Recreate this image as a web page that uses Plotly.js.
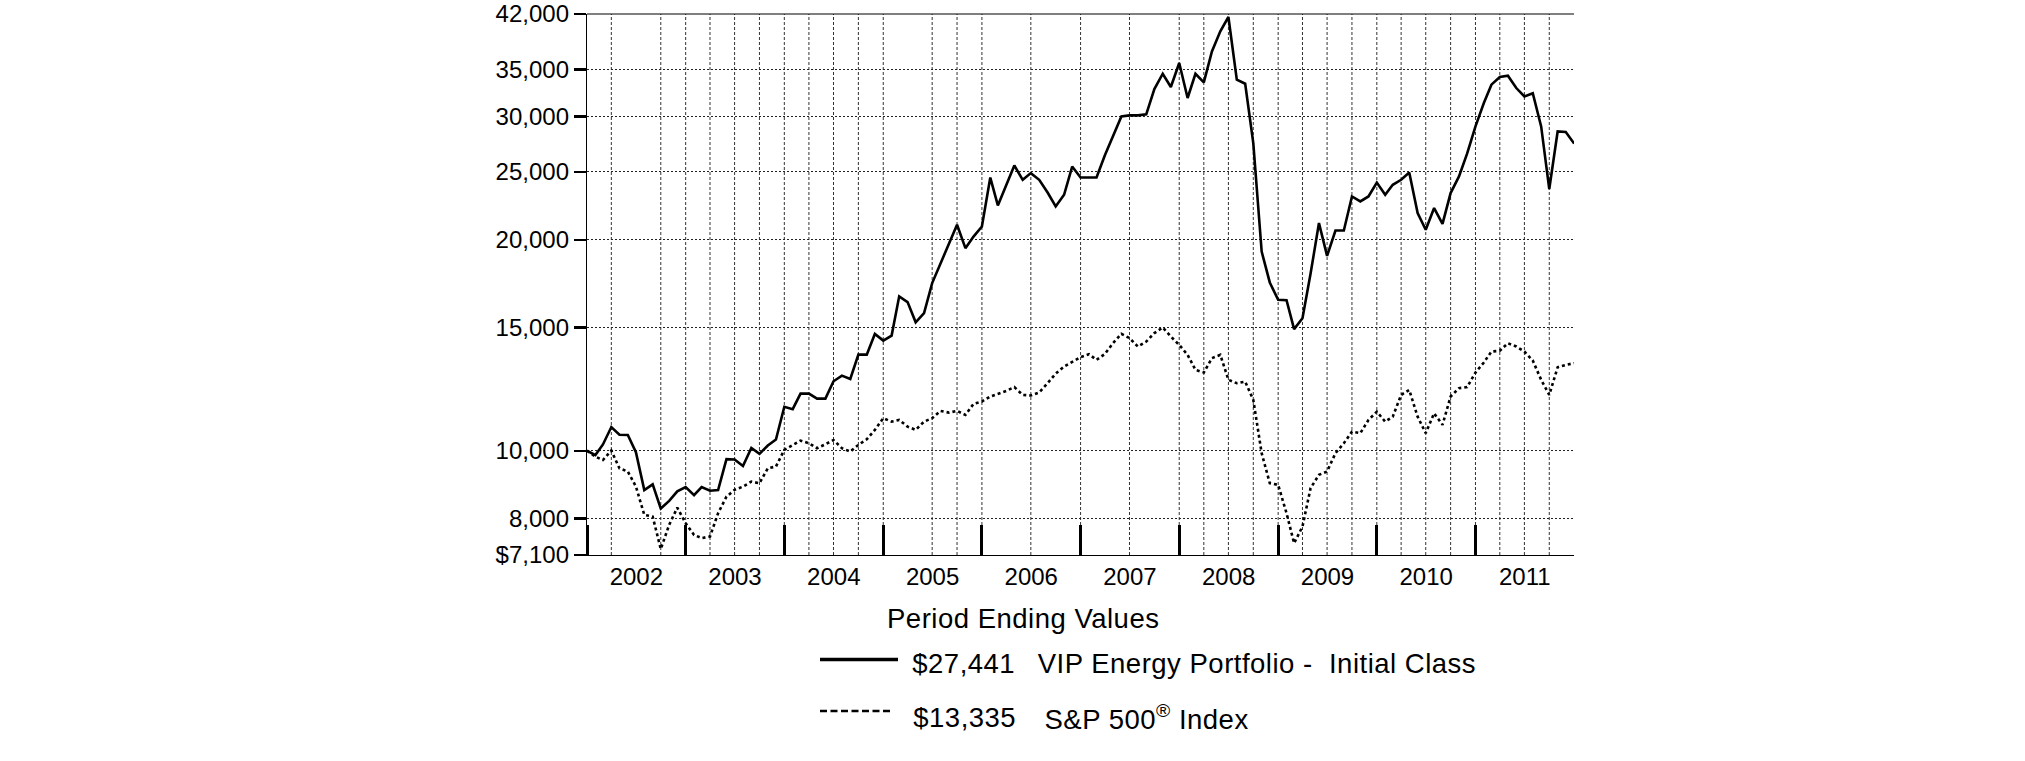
<!DOCTYPE html>
<html>
<head>
<meta charset="utf-8">
<script src="https://cdn.plot.ly/plotly-3.0.1.min.js"></script>
<style>
  html, body { margin: 0; padding: 0; background: #fff; }
  #chart { width: 2025px; height: 761px; }
  #chart .annotation-text { letter-spacing: 0.5px; }
</style>
</head>
<body>
<div id="chart"></div>
<script>
// ---- Data (hypothetical $10,000 investment, month-end values Dec 2001 - Dec 2011) ----
const vipName = 'VIP Energy Portfolio -  Initial Class';
const spName = 'S&P 500<sup>®</sup> Index';

const vipValues = [
  10000, 9860, 10210, 10810, 10540, 10530, 9950, 8790, 8955, 8270, 8480, 8750,
  8875, 8645, 8875, 8770, 8790, 9730, 9720, 9510, 10090, 9900, 10175, 10375,
  11555, 11465, 12065, 12065, 11870, 11870, 12565, 12800, 12660, 13715, 13715, 14680,
  14360, 14600, 16610, 16300, 15250, 15720, 17350, 18520, 19780, 21010, 19460, 20215,
  20895, 24540, 22390, 23960, 25530, 24360, 24900, 24360, 23365, 22315, 23190, 25445,
  24540, 24540, 24540, 26400, 28100, 29990, 30100, 30100, 30200, 32820, 34515, 33040,
  35750, 31870, 34515, 33550, 37140, 39680, 41590, 33840, 33400, 27480, 19240, 17385,
  16420, 16400, 14915, 15460, 17900, 21130, 18970, 20620, 20620, 23060, 22690, 23060,
  24140, 23190, 23960, 24360, 24950, 21840, 20670, 22200, 21080, 23320, 24630, 26540,
  29030, 31350, 33300, 34150, 34290, 32930, 32030, 32380, 29030, 23630, 28550, 28500,
  27441
];

const spValues = [
  10000, 9810, 9700, 10005, 9440, 9340, 8890, 8100, 8055, 7240, 7840, 8295,
  7880, 7585, 7505, 7545, 8145, 8600, 8795, 8890, 9035, 8990, 9440, 9495,
  10030, 10195, 10340, 10250, 10085, 10215, 10360, 10085, 9975, 10195, 10385, 10710,
  11130, 11005, 11065, 10825, 10710, 11005, 11130, 11400, 11335, 11400, 11250, 11665,
  11755, 11950, 12045, 12175, 12325, 12015, 11990, 12110, 12485, 12885, 13190, 13390,
  13600, 13735, 13480, 13745, 14240, 14685, 14480, 14085, 14315, 14720, 14990, 14555,
  14160, 13705, 13045, 12930, 13555, 13705, 12625, 12485, 12550, 11820, 9920, 8990,
  8940, 8145, 7380, 7795, 8845, 9240, 9340, 9920, 10250, 10650, 10595, 11065,
  11370, 11005, 11185, 12015, 12210, 11185, 10595, 11310, 10890, 11950, 12285, 12325,
  12930, 13365, 13855, 13890, 14240, 14085, 13855, 13450, 12625, 12015, 13160, 13260,
  13335
];

const startYear = 2002;
const yTickVals = [7100, 8000, 10000, 15000, 20000, 25000, 30000, 35000, 42000];
const yTickText = ['$7,100', '8,000', '10,000', '15,000', '20,000', '25,000', '30,000', '35,000', '42,000'];
// vertical dotted grid lines (quarter boundaries shown in the original)
const gridQuarters = ['2002-04','2002-10','2003-01','2003-04','2003-07','2003-10','2004-01','2004-04',
  '2004-07','2004-10','2005-01','2005-07','2005-10','2006-01','2006-07','2007-01','2007-07',
  '2008-01','2008-04','2008-07','2008-10','2009-01','2009-04','2009-07','2009-10','2010-01',
  '2010-04','2010-07','2010-10','2011-01','2011-04','2011-07','2011-10'];

// month dates: point i is the value at the end of month i-1 (start of month i)
const months = vipValues.map((_, i) => {
  const y = startYear + Math.floor(i / 12);
  const m = (i % 12) + 1;
  return y + '-' + String(m).padStart(2, '0') + '-01';
});

// ---- Layout geometry ----
const W = 2025, H = 761;
const M = { l: 587, r: 451, t: 14, b: 206 };
const PW = W - M.l - M.r, PH = H - M.t - M.b;
const px = x => (x - M.l) / PW;          // pixel x -> paper x
const py = y => (H - M.b - y) / PH;      // pixel y -> paper y

const FONT = 'Liberation Sans, Arial, Helvetica, sans-serif';
const fmt = v => '$' + Math.round(v).toLocaleString('en-US');

const traces = [
  {
    x: months, y: vipValues, name: vipName, type: 'scatter', mode: 'lines',
    line: { color: '#000', width: 2.6, shape: 'linear' }, hoverinfo: 'skip'
  },
  {
    x: months, y: spValues, name: spName, type: 'scatter', mode: 'lines',
    line: { color: '#000', width: 2.6, dash: '3px,3px' }, hoverinfo: 'skip'
  }
];

const shapes = [];
gridQuarters.forEach(q => {
  shapes.push({
    type: 'line', xref: 'x', yref: 'paper', x0: q + '-01', x1: q + '-01', y0: 0, y1: 1,
    line: { color: '#333', width: 1, dash: '3px,2px' }, layer: 'below'
  });
});
// top border
shapes.push({ type: 'line', xref: 'paper', yref: 'paper', x0: 0, x1: 1, y0: 1, y1: 1,
  line: { color: '#000', width: 1.2 } });
// legend samples
shapes.push({ type: 'line', xref: 'paper', yref: 'paper', x0: px(820), x1: px(898), y0: py(659.5), y1: py(659.5),
  line: { color: '#000', width: 3.5 } });
shapes.push({ type: 'line', xref: 'paper', yref: 'paper', x0: px(820), x1: px(893), y0: py(711), y1: py(711),
  line: { color: '#000', width: 2.5, dash: '7px,3.5px' } });

const legFont = { family: FONT, size: 27.5, color: '#000' };
const ann = (text, x, yc) => ({
  text: text, xref: 'paper', yref: 'paper', x: px(x), y: py(yc),
  xanchor: 'left', yanchor: 'middle', showarrow: false, borderpad: 0, font: legFont
});
const annotations = [
  ann('Period Ending Values', 891, 618.8),
  ann(fmt(vipValues[vipValues.length - 1]), 913, 663),
  ann(vipName, 1046, 663),
  ann(fmt(spValues[spValues.length - 1]), 914, 717.5),
  ann(spName, 1047, 717.5)
];

const layout = {
  width: W, height: H,
  margin: M,
  paper_bgcolor: '#fff', plot_bgcolor: '#fff',
  showlegend: false,
  font: { family: FONT, color: '#000' },
  xaxis: {
    type: 'date',
    range: ['2002-01-01', '2011-12-31 12:00'],
    tick0: '2002-01-01', dtick: 'M12',
    ticklabelmode: 'period', tickformat: '%Y',
    ticks: 'inside', ticklen: 30, tickwidth: 3, tickcolor: '#000',
    showline: true, linecolor: '#000', linewidth: 1.2,
    showgrid: false, zeroline: false,
    tickfont: { family: FONT, size: 24, color: '#000' },
    fixedrange: true
  },
  yaxis: {
    type: 'log',
    range: [Math.log10(7100), Math.log10(42000)],
    tickmode: 'array', tickvals: yTickVals, ticktext: yTickText,
    ticks: 'outside', ticklen: 12, tickwidth: 2.5, tickcolor: '#000',
    showline: true, linecolor: '#000', linewidth: 1.2,
    showgrid: true, gridcolor: '#222', gridwidth: 1, griddash: '2px,2px',
    zeroline: false,
    tickfont: { family: FONT, size: 24, color: '#000' },
    fixedrange: true
  },
  shapes: shapes,
  annotations: annotations
};

Plotly.newPlot('chart', traces, layout, { staticPlot: true, displayModeBar: false });
</script>
</body>
</html>
